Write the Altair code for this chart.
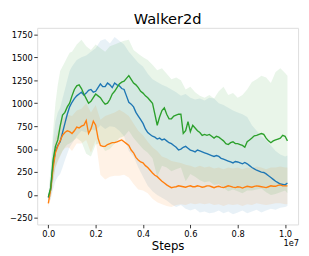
import altair as alt
import pandas as pd

# x positions (units of 1e7 steps) for the mean curves
line_steps = [0.00, 0.01, 0.02, 0.03, 0.04, 0.05, 0.06, 0.07, 0.08, 0.09,
              0.10, 0.11, 0.12, 0.13, 0.14, 0.15, 0.16, 0.17, 0.18, 0.19,
              0.20, 0.21, 0.22, 0.23, 0.24, 0.25, 0.26, 0.27, 0.28, 0.29,
              0.30, 0.31, 0.32, 0.33, 0.34, 0.35, 0.36, 0.37, 0.38, 0.39,
              0.40, 0.41, 0.42, 0.43, 0.44, 0.45, 0.46, 0.47, 0.48, 0.49,
              0.50, 0.51, 0.52, 0.53, 0.54, 0.55, 0.56, 0.57, 0.58, 0.59,
              0.60, 0.61, 0.62, 0.63, 0.64, 0.65, 0.66, 0.67, 0.68, 0.69,
              0.70, 0.71, 0.72, 0.73, 0.74, 0.75, 0.76, 0.77, 0.78, 0.79,
              0.80, 0.81, 0.82, 0.83, 0.84, 0.85, 0.86, 0.87, 0.88, 0.89,
              0.90, 0.91, 0.92, 0.93, 0.94, 0.95, 0.96, 0.97, 0.98, 0.99,
              1.00, 1.01]

blue_mean = [-30, 60, 330, 480, 540, 580, 680, 780, 880, 960,
             1010, 1050, 1080, 1100, 1120, 1090, 1110, 1140, 1150, 1120,
             1130, 1170, 1210, 1180, 1180, 1220, 1200, 1170, 1220, 1200,
             1190, 1160, 1150, 1080, 1010, 990, 960, 900, 860, 820,
             780, 720, 680, 660, 640, 630, 610, 620, 600, 610,
             590, 570, 560, 540, 520, 490, 500, 520, 530, 510,
             490, 480, 470, 490, 480, 470, 460, 450, 440, 430,
             420, 430, 420, 400, 390, 380, 370, 360, 350, 365,
             360, 350, 340, 355, 340, 320, 300, 285, 270, 260,
             250, 245, 230, 210, 190, 170, 150, 135, 120, 115,
             110, 130]

orange_mean = [-90, 60, 290, 460, 530, 590, 650, 680, 700, 690,
               670, 700, 740, 730, 750, 760, 810, 670, 720, 805,
               760, 620, 540, 530, 530, 550, 560, 570, 570, 580,
               590, 600, 580, 560, 540, 490, 460, 410, 380, 360,
               350, 320, 300, 270, 240, 215, 200, 175, 150, 130,
               110, 95, 80, 85, 90, 100, 95, 90, 85, 95,
               100, 90, 90, 100, 95, 85, 90, 100, 100, 90,
               80, 90, 95, 85, 80, 90, 100, 95, 85, 80,
               90, 85, 75, 85, 95, 90, 85, 95, 100, 95,
               90, 85, 80, 90, 100, 95, 95, 105, 110, 100,
               100, 100]

green_mean = [-20, 80, 380, 530, 600, 750, 870, 900, 960, 1000,
              1080, 1150, 1190, 1200, 1160, 1100, 1050, 1000, 1020, 1060,
              1100, 1080, 1060, 1020, 990, 1000, 1040, 1100, 1130, 1170,
              1210, 1230, 1240, 1270, 1300, 1260, 1220, 1200, 1170, 1130,
              1110, 1080, 1060, 1030, 1000, 880, 760, 850, 920, 950,
              880, 830, 830, 860, 870, 880, 880, 670, 700, 800,
              690, 760, 730, 700, 680, 650, 660, 650, 660, 640,
              620, 640, 630, 610, 590, 560, 550, 570, 580, 560,
              560, 550, 540, 520, 580, 600, 620, 645, 650, 660,
              670, 660, 620, 590, 570, 590, 600, 610, 620, 650,
              640, 590]

# x positions for the shaded bands
band_steps = [0.00, 0.01, 0.02, 0.03, 0.04, 0.05, 0.06, 0.07, 0.08, 0.09, 0.10,
              0.12, 0.14, 0.16, 0.18, 0.20, 0.22, 0.24, 0.26, 0.28, 0.30,
              0.32, 0.34, 0.36, 0.38, 0.40, 0.42, 0.44, 0.46, 0.48, 0.50,
              0.52, 0.54, 0.56, 0.58, 0.60, 0.62, 0.64, 0.66, 0.68, 0.70,
              0.72, 0.74, 0.76, 0.78, 0.80, 0.82, 0.84, 0.86, 0.88, 0.90,
              0.92, 0.94, 0.96, 0.98, 1.00, 1.01]

blue_hi = [0, 200, 600, 800, 900, 950, 1050, 1150, 1250, 1350, 1400,
           1470, 1500, 1520, 1560, 1600, 1680, 1700, 1650, 1720, 1680,
           1640, 1560, 1500, 1440, 1400, 1320, 1260, 1230, 1200, 1180,
           1150, 1120, 1080, 1100, 1060, 1040, 1050, 1030, 1060, 1050,
           1000, 980, 950, 920, 900, 880, 850, 760, 700, 640,
           600, 540, 480, 440, 420, 430]
blue_lo = [-60, -50, 60, 150, 200, 230, 300, 380, 450, 520, 560,
           640, 700, 680, 720, 700, 760, 720, 750, 740, 700,
           640, 480, 420, 300, 200, 100, 40, 0, -30, -60,
           -100, -130, -110, -150, -170, -150, -190, -180, -200, -190,
           -170, -200, -180, -210, -190, -170, -200, -180, -160, -190,
           -170, -150, -160, -140, -130, -120]

orange_hi = [-40, 150, 450, 620, 700, 760, 820, 850, 880, 870, 860,
             920, 940, 1000, 900, 980, 820, 860, 880, 900, 930,
             900, 860, 780, 700, 650, 580, 520, 480, 420, 400,
             370, 360, 350, 330, 320, 300, 320, 300, 310, 290,
             300, 280, 300, 290, 300, 280, 300, 290, 310, 300,
             280, 300, 300, 310, 300, 300]
orange_lo = [-140, -40, 130, 300, 360, 420, 480, 510, 520, 510, 480,
             560, 560, 600, 460, 600, 220, 170, 200, 210, 210,
             220, 190, 120, 60, 50, 20, -40, -80, -100, -120,
             -130, -110, -100, -110, -90, -100, -90, -100, -90, -110,
             -100, -120, -100, -110, -100, -120, -100, -110, -90, -100,
             -110, -100, -90, -90, -100, -100]

green_hi = [0, 300, 700, 1000, 1200, 1350, 1400, 1450, 1500, 1550, 1560,
            1640, 1690, 1620, 1580, 1640, 1600, 1560, 1620, 1640, 1660,
            1680, 1690, 1580, 1540, 1500, 1470, 1420, 1360, 1380, 1320,
            1260, 1280, 1250, 1150, 1180, 1120, 1080, 1060, 1090, 1050,
            1130, 1180, 1090, 1110, 1060, 1090, 1150, 1230, 1260, 1300,
            1280, 1220, 1340, 1380, 1330, 1300]
green_lo = [-50, -20, 150, 300, 380, 430, 480, 520, 550, 560, 580,
            620, 580, 450, 420, 550, 560, 480, 500, 560, 620,
            640, 700, 620, 560, 500, 460, 400, 200, 320, 300,
            260, 280, 300, 150, 230, 200, 160, 140, 150, 110,
            120, 80, 40, 60, 40, 20, 50, 50, 60, 70,
            30, 0, 10, 30, 50, 20]

series_names = ["blue", "orange", "green"]
series_colors = ["#1f77b4", "#ff7f0e", "#2ca02c"]
y_ticks = [-250, 0, 250, 500, 750, 1000, 1250, 1500, 1750]
x_ticks = [0.0, 0.2, 0.4, 0.6, 0.8, 1.0]

line_rows = []
for name, m in [("blue", blue_mean), ("orange", orange_mean), ("green", green_mean)]:
    for i, s in enumerate(line_steps):
        line_rows.append({"series": name, "step": s, "val": m[i]})
line_df = pd.DataFrame(line_rows)

band_rows = []
for name, hi, lo in [("blue", blue_hi, blue_lo), ("orange", orange_hi, orange_lo),
                     ("green", green_hi, green_lo)]:
    for i, s in enumerate(band_steps):
        band_rows.append({"series": name, "step": s, "val": lo[i], "hi": hi[i]})
band_df = pd.DataFrame(band_rows)

W, H = 268, 202
xs = alt.Scale(domain=[-0.047, 1.055], nice=False, zero=False)
ys = alt.Scale(domain=[-321, 1821], nice=False, zero=False)
cs = alt.Scale(domain=series_names, range=series_colors)

x_axis = alt.Axis(values=x_ticks, format=".1f", title="Steps", grid=False,
                  domain=False, tickSize=3.5, tickColor="black", tickWidth=0.8,
                  labelFontSize=8.5, labelColor="black", labelFont="DejaVu Sans",
                  labelOverlap=False, labelFlush=False,
                  titleFontSize=12, titleFontWeight="normal", titleColor="black",
                  titleFont="DejaVu Sans", titlePadding=3, labelPadding=2)
y_axis = alt.Axis(values=y_ticks, format="d", title=None, grid=False,
                  domain=False, tickSize=3.5, tickColor="black", tickWidth=0.8,
                  labelFontSize=8.5, labelColor="black", labelFont="DejaVu Sans",
                  labelOverlap=False, labelFlush=False, labelPadding=1.5)

X = alt.X("step:Q", scale=xs, axis=x_axis, title="Steps")
Y = alt.Y("val:Q", scale=ys, axis=y_axis, title=None)

bands = alt.Chart(band_df).mark_area(opacity=0.1, clip=True).encode(
    x=X, y=Y, y2="hi:Q",
    color=alt.Color("series:N", scale=cs, legend=None),
    detail="series:N",
)

line_layers = [
    alt.Chart(line_df).transform_filter(alt.datum.series == n)
    .mark_line(strokeWidth=1.4, clip=True).encode(
        x=X, y=Y,
        color=alt.Color("series:N", scale=cs, legend=None),
    )
    for n in series_names
]

offset_text = alt.Chart(pd.DataFrame({"t": ["1e7"]})).mark_text(
    align="right", baseline="middle", fontSize=8.5, font="DejaVu Sans", color="black"
).encode(x=alt.value(W + 1), y=alt.value(H + 19), text="t:N")

chart = alt.layer(bands, *line_layers, offset_text).properties(
    width=W, height=H,
    title=alt.TitleParams("Walker2d", fontSize=15, font="DejaVu Sans",
                          fontWeight="normal", color="black", offset=1),
    autosize=alt.AutoSizeParams(type="none"),
    padding={"left": 30, "top": 17, "right": 3, "bottom": 29},
).configure_view(stroke="black", strokeWidth=0.8
).configure_axis(labelOverlap=False
).configure(background="white")

chart.save("out.html", embed_options={"renderer": "svg", "actions": False})
